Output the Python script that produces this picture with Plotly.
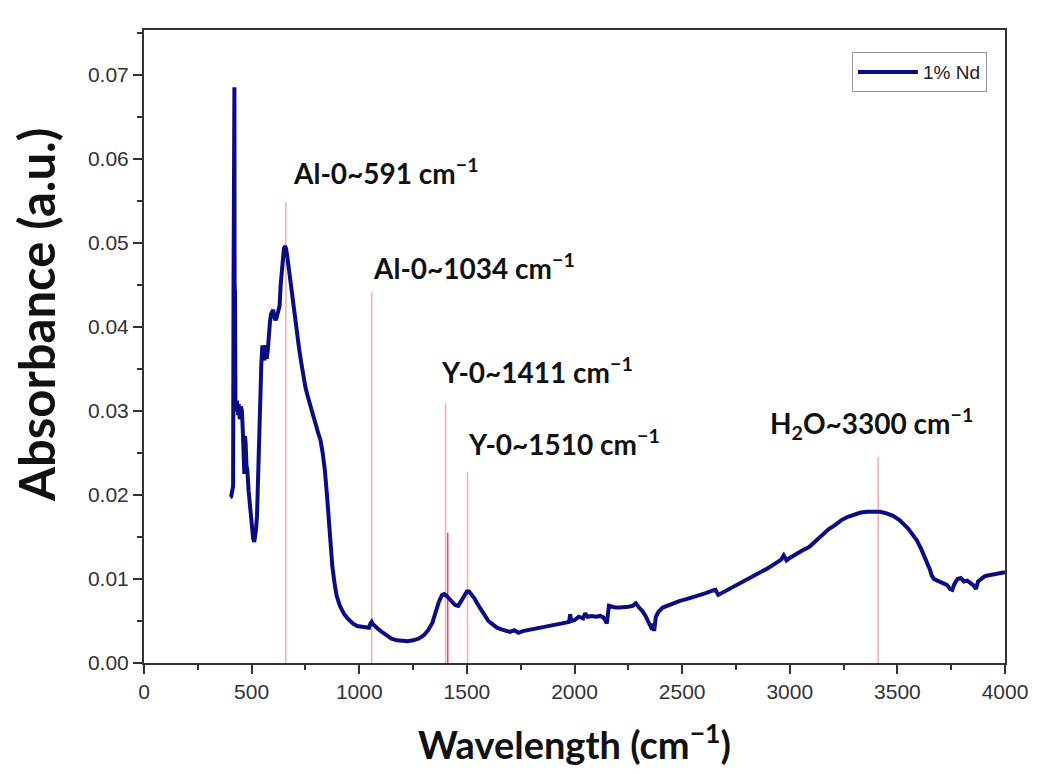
import plotly.graph_objects as go

# ---- data ----
wavenumber = [400, 405, 410, 414, 416, 418, 420, 421, 423, 425, 428, 432, 436, 440, 445, 450, 455, 460, 463, 466,
              469, 472, 476, 480, 486, 492, 497, 502, 507, 512, 516, 520, 525, 530, 535, 540, 545, 550, 555, 560,
              565, 570, 575, 580, 585, 590, 595, 600, 605, 610, 615, 620, 625, 630, 635, 640, 645, 650, 655, 660,
              665, 672, 680, 690, 700, 710, 720, 730, 740, 750, 760, 770, 780, 790, 800, 810, 820, 830, 840, 850,
              860, 868, 875, 885, 895, 910, 930, 950, 970, 990, 1010, 1030, 1045, 1052, 1058, 1064, 1075, 1090, 1110, 1130,
              1150, 1175, 1200, 1225, 1250, 1275, 1300, 1320, 1340, 1355, 1370, 1385, 1395, 1405, 1415, 1430, 1445, 1460, 1475, 1490,
              1500, 1510, 1520, 1535, 1550, 1565, 1580, 1600, 1620, 1640, 1660, 1680, 1700, 1720, 1740, 1760, 1780, 1800, 1820, 1840,
              1860, 1880, 1900, 1920, 1940, 1960, 1975, 1980, 1985, 2000, 2020, 2040, 2050, 2060, 2080, 2100, 2120, 2135, 2145, 2150,
              2160, 2170, 2190, 2210, 2230, 2250, 2270, 2285, 2300, 2315, 2330, 2340, 2350, 2360, 2365, 2370, 2378, 2390, 2410, 2430,
              2460, 2490, 2520, 2550, 2580, 2610, 2640, 2655, 2668, 2690, 2720, 2750, 2780, 2810, 2840, 2870, 2900, 2930, 2960, 2972,
              2985, 3000, 3030, 3060, 3090, 3120, 3150, 3180, 3210, 3240, 3270, 3300, 3330, 3360, 3390, 3420, 3450, 3480, 3510, 3530,
              3550, 3570, 3590, 3610, 3625, 3640, 3650, 3660, 3670, 3685, 3700, 3715, 3730, 3745, 3755, 3765, 3780, 3795, 3810, 3825,
              3840, 3855, 3865, 3875, 3890, 3905, 3920, 3940, 3960, 3980, 4000]
absorbance = [0.0197, 0.0198, 0.0205, 0.0210, 0.0450, 0.0685, 0.0685, 0.0450, 0.0440, 0.0310, 0.0300, 0.0312, 0.0295, 0.0308, 0.0290, 0.0305, 0.0300, 0.0270, 0.0235, 0.0225,
              0.0270, 0.0262, 0.0235, 0.0230, 0.0205, 0.0185, 0.0170, 0.0155, 0.0148, 0.0144, 0.0150, 0.0158, 0.0175, 0.0230, 0.0285, 0.0320, 0.0355, 0.0378, 0.0370, 0.0360,
              0.0378, 0.0362, 0.0372, 0.0395, 0.0405, 0.0415, 0.0418, 0.0420, 0.0412, 0.0408, 0.0410, 0.0416, 0.0418, 0.0425, 0.0450, 0.0470, 0.0485, 0.0493, 0.0496, 0.0493,
              0.0485, 0.0470, 0.0452, 0.0432, 0.0415, 0.0395, 0.0375, 0.0358, 0.0342, 0.0328, 0.0318, 0.0308, 0.0298, 0.0290, 0.0282, 0.0273, 0.0265, 0.0250, 0.0230, 0.0200,
              0.0160, 0.0135, 0.0115, 0.0095, 0.0080, 0.0068, 0.0058, 0.0052, 0.0047, 0.0044, 0.0043, 0.0042, 0.0042, 0.0047, 0.0049, 0.0046, 0.0043, 0.0040, 0.0036, 0.0032,
              0.0029, 0.0027, 0.0026, 0.0026, 0.0027, 0.0029, 0.0033, 0.0039, 0.0048, 0.0060, 0.0073, 0.0081, 0.0082, 0.0080, 0.0077, 0.0073, 0.0069, 0.0068, 0.0075, 0.0082,
              0.0085, 0.0085, 0.0082, 0.0077, 0.0070, 0.0064, 0.0058, 0.0050, 0.0046, 0.0042, 0.0040, 0.0038, 0.0037, 0.0039, 0.0036, 0.0038, 0.0039, 0.0040, 0.0041, 0.0041,
              0.0043, 0.0044, 0.0045, 0.0046, 0.0047, 0.0048, 0.0049, 0.0058, 0.0050, 0.0051, 0.0055, 0.0053, 0.0059, 0.0055, 0.0056, 0.0055, 0.0056, 0.0054, 0.0050, 0.0047,
              0.0068, 0.0067, 0.0066, 0.0066, 0.0066, 0.0067, 0.0068, 0.0071, 0.0066, 0.0062, 0.0056, 0.0050, 0.0043, 0.0040, 0.0047, 0.0038, 0.0055, 0.0061, 0.0066, 0.0068,
              0.0072, 0.0074, 0.0076, 0.0078, 0.0081, 0.0083, 0.0086, 0.0087, 0.0081, 0.0084, 0.0088, 0.0092, 0.0097, 0.0101, 0.0105, 0.0109, 0.0113, 0.0118, 0.0123, 0.0128,
              0.0122, 0.0125, 0.0130, 0.0134, 0.0138, 0.0145, 0.0152, 0.0159, 0.0164, 0.0170, 0.0174, 0.0177, 0.0179, 0.0180, 0.0180, 0.0180, 0.0178, 0.0175, 0.0170, 0.0165,
              0.0160, 0.0153, 0.0146, 0.0136, 0.0128, 0.0118, 0.0112, 0.0104, 0.0100, 0.0098, 0.0096, 0.0094, 0.0093, 0.0088, 0.0087, 0.0094, 0.0100, 0.0101, 0.0097, 0.0098,
              0.0095, 0.0092, 0.0088, 0.0097, 0.0100, 0.0103, 0.0104, 0.0105, 0.0106, 0.0107, 0.0108]

# peak marker lines (x position, top of line)
marker_x = [659, 1058, 1401, 1503, 3411]
marker_top = [0.0548, 0.0441, 0.0309, 0.0227, 0.0245]
strong_marker_x = [1411]
strong_marker_top = [0.0155]

# peak labels
label_text = ["Al-0~591 cm<sup>\u22121</sup>", "Al-0~1034 cm<sup>\u22121</sup>", "Y-0~1411 cm<sup>\u22121</sup>",
              "Y-0~1510 cm<sup>\u22121</sup>", "H<sub>2</sub>O~3300 cm<sup>\u22121</sup>"]
label_x = [682, 1053, 1369, 1494, 2900]
label_y = [0.0585, 0.0472, 0.0348, 0.0262, 0.0285]

series_name = "1% Nd"
x_title = "Wavelength (cm<sup>\u22121</sup>)"
y_title = "Absorbance (a.u.)"
x_ticks = [0, 500, 1000, 1500, 2000, 2500, 3000, 3500, 4000]
y_ticks = [0.00, 0.01, 0.02, 0.03, 0.04, 0.05, 0.06, 0.07]

fig = go.Figure()

fig.add_trace(go.Scatter(x=wavenumber, y=absorbance, mode="lines", name=series_name,
                         line=dict(color="#0c0c82", width=4)))

for mx, mt in zip(marker_x, marker_top):
    fig.add_shape(type="line", xref="x", yref="y", x0=mx, x1=mx, y0=0, y1=mt,
                  line=dict(color="rgba(240,90,100,0.5)", width=1.5), layer="below")
for mx, mt in zip(strong_marker_x, strong_marker_top):
    fig.add_shape(type="line", xref="x", yref="y", x0=mx, x1=mx, y0=0, y1=mt,
                  line=dict(color="rgba(235,40,50,0.85)", width=1.5), layer="below")

for t, lx, ly in zip(label_text, label_x, label_y):
    fig.add_annotation(x=lx, y=ly, xref="x", yref="y", text="<b>" + t + "</b>", showarrow=False,
                       xanchor="left", yanchor="middle", bgcolor="white",
                       font=dict(family="Lato", size=28, color="#111111"))

# y axis title (placed as rotated text, slightly above the axis centre as in the reference)
fig.add_annotation(x=-0.1253, y=0.55, xref="paper", yref="paper", text="<b>" + y_title + "</b>",
                   textangle=-90, showarrow=False, xanchor="center", yanchor="middle",
                   font=dict(family="Lato", size=49, color="#111111"))

tick_font = dict(family="Liberation Sans, Arial", size=21, color="#333333")
fig.update_xaxes(range=[0, 4000], tickvals=x_ticks, ticks="outside", ticklen=9, tickwidth=2,
                 tickcolor="#333333", showline=True, linewidth=2, linecolor="#333333", mirror=True,
                 showgrid=False, zeroline=False, tickfont=tick_font,
                 minor=dict(dtick=250, ticks="outside", ticklen=5, tickwidth=2, tickcolor="#333333"),
                 title=dict(text="<b>" + x_title + "</b>", standoff=30,
                            font=dict(family="Lato", size=38, color="#111111")))
fig.update_yaxes(range=[0, 0.0753], tickvals=y_ticks, tickformat=".2f", ticks="outside", ticklen=9,
                 tickwidth=2, tickcolor="#333333", showline=True, linewidth=2, linecolor="#333333",
                 mirror=True, showgrid=False, zeroline=False, tickfont=tick_font,
                 minor=dict(dtick=0.005, ticks="outside", ticklen=5, tickwidth=2, tickcolor="#333333"))

fig.update_layout(
    width=1048, height=774,
    margin=dict(l=136, r=51, t=22, b=119, autoexpand=False),
    paper_bgcolor="white", plot_bgcolor="white",
    showlegend=True,
    legend=dict(x=0.979, y=0.965, xanchor="right", yanchor="top", bgcolor="white",
                bordercolor="#999999", borderwidth=1, itemwidth=60,
                font=dict(family="Liberation Sans, Arial", size=19, color="#222222")),
)

fig.write_html("out.html")
